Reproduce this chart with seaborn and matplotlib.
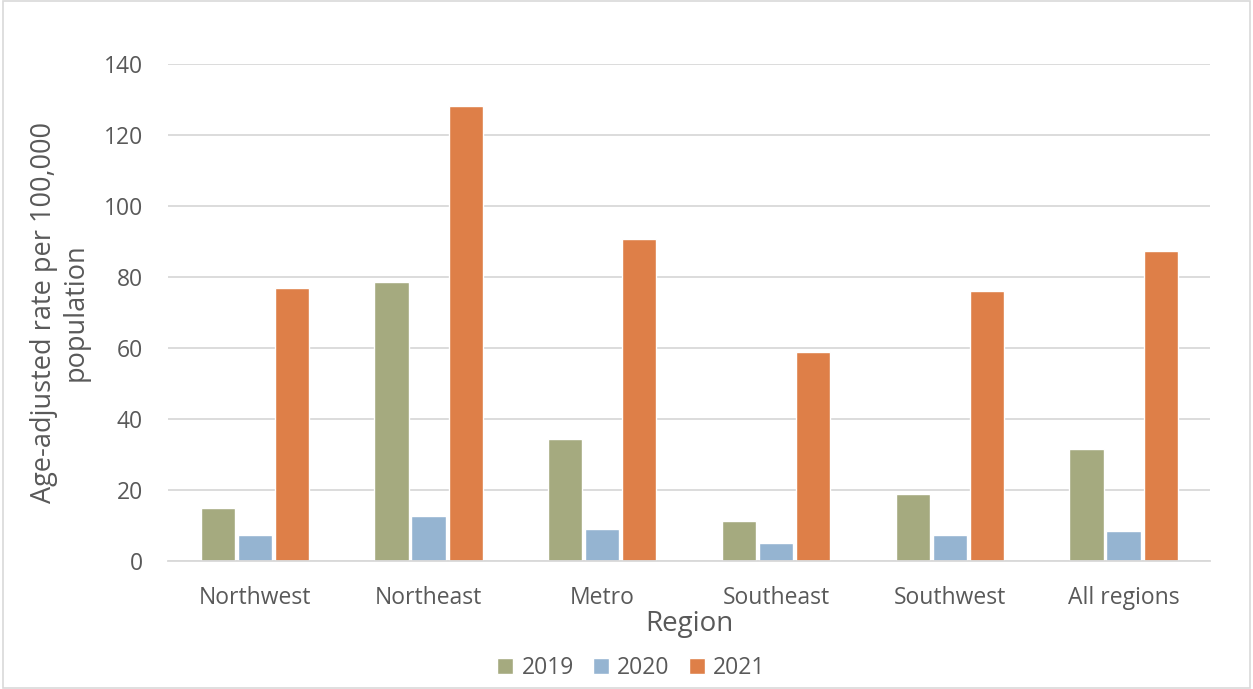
import matplotlib
matplotlib.use("Agg")
import matplotlib.pyplot as plt
import seaborn as sns
import pandas as pd
from matplotlib.patches import Rectangle

regions = ["Northwest", "Northeast", "Metro", "Southeast", "Southwest", "All regions"]
years = ["2019", "2020", "2021"]
v2019 = [14.9, 78.6, 34.2, 11.1, 18.9, 31.4]
v2020 = [7.3, 12.7, 9.1, 5.0, 7.4, 8.5]
v2021 = [77.0, 128.3, 90.8, 58.9, 76.0, 87.2]
colors = ["#A5AA7F", "#95B4D1", "#DE7F48"]

rows = []
for y, vals in zip(years, [v2019, v2020, v2021]):
    for r, v in zip(regions, vals):
        rows.append({"Region": r, "Year": y, "Rate": v})
df = pd.DataFrame(rows)

sns.set_theme(style="white")
plt.rcParams["font.family"] = ["Open Sans", "DejaVu Sans"]
txt = "#595959"

fig = plt.figure(figsize=(12.53, 6.89), dpi=100)
ax = fig.add_axes([0.134, 0.186, 0.832, 0.721])
sns.barplot(data=df, x="Region", y="Rate", hue="Year", hue_order=years,
            palette=colors, width=0.64, gap=0.08, ax=ax, saturation=1,
            errorbar=None, legend=True)

ax.set_ylim(0, 140)
ax.set_yticks(range(0, 141, 20))
ax.set_xlim(-0.5, 5.5)
ax.yaxis.grid(True, color="#D9D9D9", linewidth=1.3)
ax.set_axisbelow(True)
for s in ["top", "right", "left"]:
    ax.spines[s].set_visible(False)
ax.spines["bottom"].set_color("#D9D9D9")
ax.spines["bottom"].set_linewidth(1.3)
ax.tick_params(axis="both", length=0, labelsize=16.5, colors=txt)
ax.tick_params(axis="x", pad=18)
ax.tick_params(axis="y", pad=18)
ax.set_xlabel("Region", fontsize=20, color=txt, labelpad=0)
ax.set_ylabel("Age-adjusted rate per 100,000\npopulation", fontsize=19.5, color=txt, labelpad=10)

handles, labels = ax.get_legend_handles_labels()
ax.get_legend().remove()
fig.legend(handles, labels, loc="center", bbox_to_anchor=(0.504, 0.031),
           ncol=3, frameon=False, fontsize=16.5, labelcolor=txt,
           handlelength=0.7, handleheight=0.7, handletextpad=0.35, columnspacing=0.85)

fig.patches.append(Rectangle((0.002, 0.002), 0.996, 0.996, transform=fig.transFigure,
                             fill=False, edgecolor="#D9D9D9", linewidth=1.2))
fig.savefig("out.png", dpi=100)
